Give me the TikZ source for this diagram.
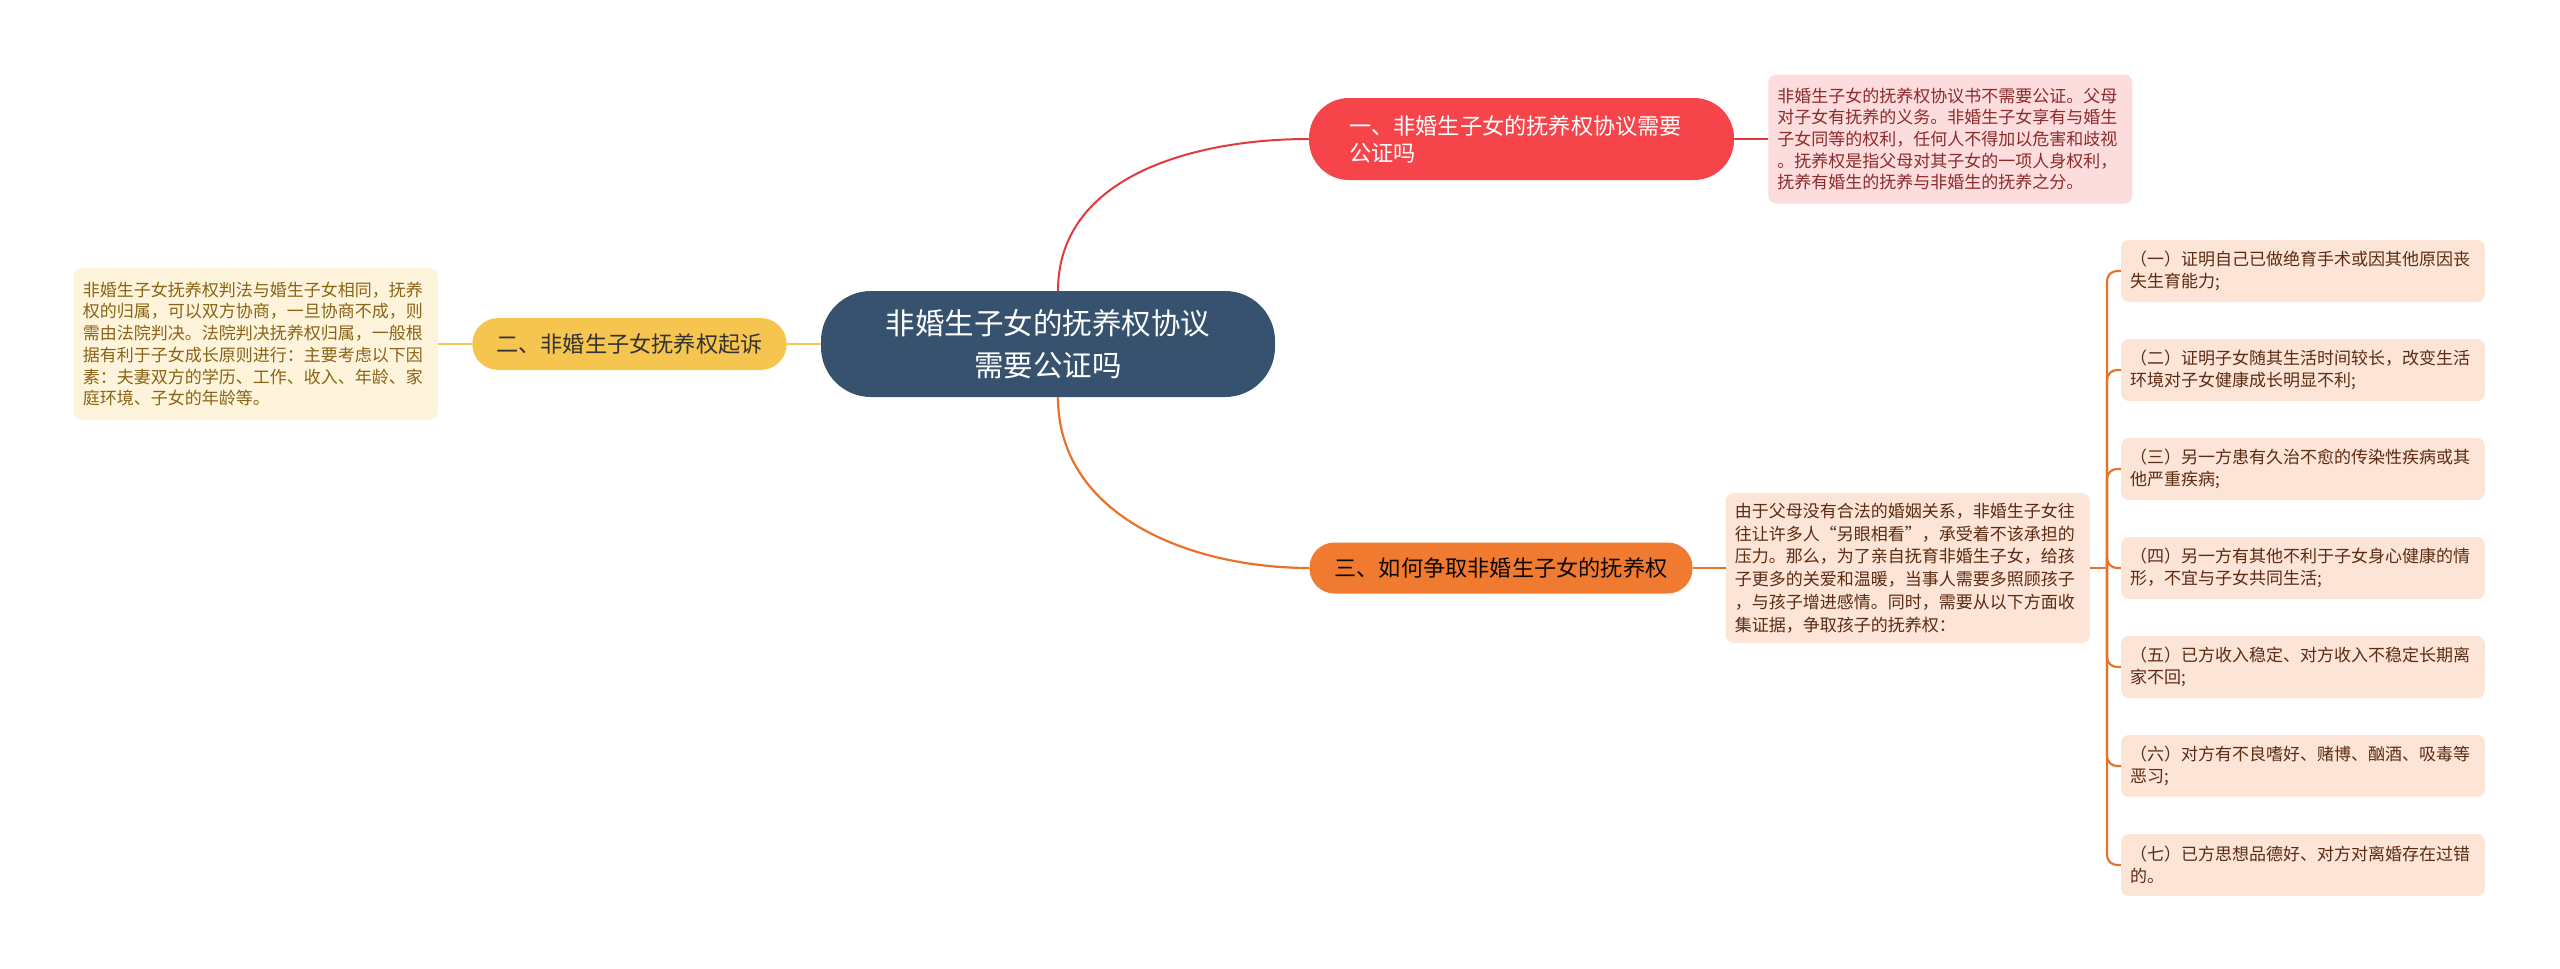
\documentclass[tikz,border=0pt]{standalone}
\usepackage{fontspec}
\setmainfont{Noto Sans CJK SC}
\usetikzlibrary{positioning}

\definecolor{rootblue}{HTML}{36526E}
\definecolor{redmain}{HTML}{F5454B}
\definecolor{redline}{HTML}{E03A3F}
\definecolor{redleaf}{HTML}{FCDCDC}
\definecolor{redtext}{HTML}{8C2B2B}
\definecolor{yelmain}{HTML}{F6C550}
\definecolor{yelleaf}{HTML}{FEF4DB}
\definecolor{yeltext}{HTML}{8A6416}
\definecolor{ormain}{HTML}{F07A30}
\definecolor{orline}{HTML}{E8722C}
\definecolor{orleaf}{HTML}{FCE4D6}
\definecolor{ortext}{HTML}{5C2C12}

\begin{document}
\begin{tikzpicture}[x=1pt, y=-1pt,
    leaf/.style={rounded corners=8pt, align=left, text width=346pt, inner xsep=9pt,
        inner ysep=10pt, font=\fontsize{17}{21.7}\selectfont},
    topic/.style={inner ysep=0pt, font=\fontsize{22.2}{27}\selectfont},
    redl/.style={draw=redline, line width=2pt},
    yell/.style={draw=yelmain, line width=2.4pt},
    orl/.style={draw=orline, line width=2.2pt}]
    \useasboundingbox (0,0) rectangle (2560,969);

    % Central topic
    \node[fill=rootblue, text=white, rounded corners=50pt, align=center, text width=326pt,
        inner xsep=64pt, minimum height=106pt, font=\fontsize{29.5}{41.7}\selectfont]
        (root) at (1048,344) {非婚生子女的抚养权协议\\需要公证吗};

    % Main branches
    \node[topic, fill=redmain, text=white, rounded corners=40pt, align=left, text width=345pt,
        inner xsep=40pt, minimum height=82pt] (b1) at (1521.5,139)
        {一、非婚生子女的抚养权协议需要\\公证吗};
    \node[topic, fill=yelmain, text=black!80, rounded corners=26pt, inner xsep=24pt,
        minimum height=52pt] (b2) at (629.5,344) {二、非婚生子女抚养权起诉};
    \node[topic, fill=ormain, text=black!85!ortext, rounded corners=25pt, inner xsep=25pt,
        minimum height=51pt] (b3) at (1501,568) {三、如何争取非婚生子女的抚养权};

    % Detail texts
    \node[leaf, fill=redleaf, text=redtext, minimum height=129pt, right=34pt of b1] (d1)
        {非婚生子女的抚养权协议书不需要公证。父母\\对子女有抚养的义务。非婚生子女享有与婚生\\子女同等的权利，任何人不得加以危害和歧视\\。抚养权是指父母对其子女的一项人身权利，\\抚养有婚生的抚养与非婚生的抚养之分。};
    \node[leaf, fill=yelleaf, text=yeltext, minimum height=152pt, left=34pt of b2] (d2)
        {非婚生子女抚养权判法与婚生子女相同，抚养\\权的归属，可以双方协商，一旦协商不成，则\\需由法院判决。法院判决抚养权归属，一般根\\据有利于子女成长原则进行：主要考虑以下因\\素：夫妻双方的学历、工作、收入、年龄、家\\庭环境、子女的年龄等。};
    \node[leaf, fill=orleaf, text=ortext, minimum height=147pt, right=33pt of b3,
        font=\fontsize{17}{22.7}\selectfont] (d3)
        {由于父母没有合法的婚姻关系，非婚生子女往\\往让许多人“另眼相看”，承受着不该承担的\\压力。那么，为了亲自抚育非婚生子女，给孩\\子更多的关爱和温暖，当事人需要多照顾孩子\\，与孩子增进感情。同时，需要从以下方面收\\集证据，争取孩子的抚养权：};

    % Evidence items
    \foreach \n/\txt in {
        1/{（一）证明自己已做绝育手术或因其他原因丧\\失生育能力;},
        2/{（二）证明子女随其生活时间较长，改变生活\\环境对子女健康成长明显不利;},
        3/{（三）另一方患有久治不愈的传染性疾病或其\\他严重疾病;},
        4/{（四）另一方有其他不利于子女身心健康的情\\形，不宜与子女共同生活;},
        5/{（五）已方收入稳定、对方收入不稳定长期离\\家不回;},
        6/{（六）对方有不良嗜好、赌博、酗酒、吸毒等\\恶习;},
        7/{（七）已方思想品德好、对方对离婚存在过错\\的。}} {
        \node[leaf, fill=orleaf, text=ortext, minimum height=62pt] (it\n)
            at (2303, {271+99*(\n-1)}) {\txt};
    }

    % Connectors
    \draw[redl] ([xshift=10pt]root.north) to[out=90, in=180] (b1.west);
    \draw[redl] (b1.east) -- (d1.west);
    \draw[yell] (root.west) -- (b2.east);
    \draw[yell] (b2.west) -- (d2.east);
    \draw[orl] ([xshift=10pt]root.south) to[out=-90, in=180] (b3.west);
    \draw[orl] (b3.east) -- (d3.west);
    \coordinate (fork) at (2107,568);
    \draw[orl] (d3.east) -- (fork);
    \foreach \n in {1,...,7} {
        \draw[orl, rounded corners=10pt] (fork) |- (it\n.west);
    }
\end{tikzpicture}
\end{document}
